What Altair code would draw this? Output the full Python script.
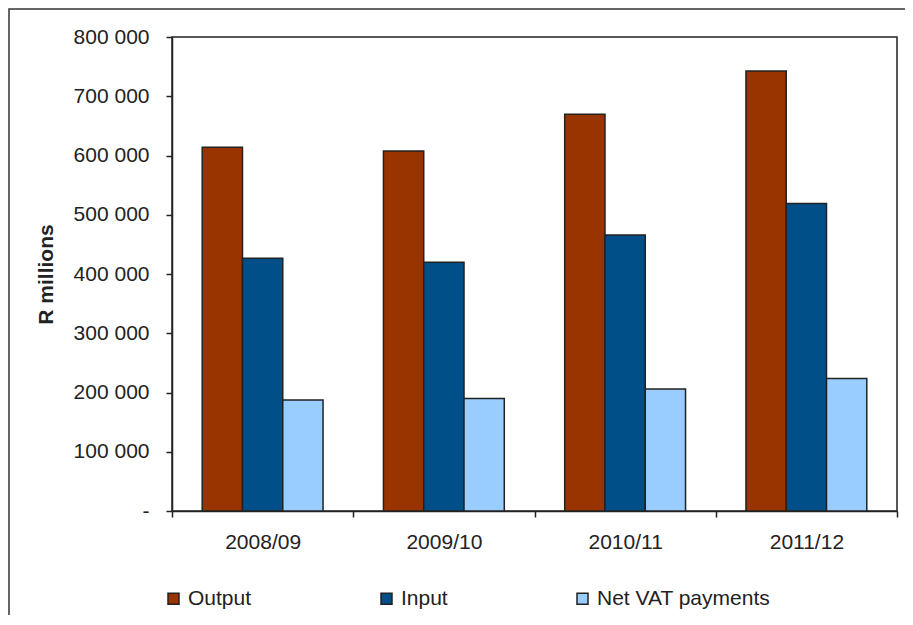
import altair as alt
import pandas as pd

years = ["2008/09", "2009/10", "2010/11", "2011/12"]
series = ["Output", "Input", "Net VAT payments"]
output_vals = [614000, 607500, 669500, 742500]
input_vals = [426500, 420000, 466000, 519000]
net_vals = [187500, 190000, 206000, 223500]
colors = ["#993300", "#014F88", "#99CCFF"]
y_ticks = [0, 100000, 200000, 300000, 400000, 500000, 600000, 700000, 800000]

rows = []
for s, vals in zip(series, [output_vals, input_vals, net_vals]):
    for yr, v in zip(years, vals):
        rows.append({"year": yr, "series": s, "value": v})
df = pd.DataFrame(rows)

FONT = "Liberation Sans"
FS = 21
INK = "#222222"
W, H = 725, 474

bars = alt.Chart(df).mark_bar(stroke=INK, strokeWidth=1.5).encode(
    x=alt.X(
        "year:N",
        sort=years,
        scale=alt.Scale(paddingInner=0, paddingOuter=0),
        axis=alt.Axis(
            title=None, labelAngle=0, tickBand="extent", tickSize=6,
            labelPadding=14, grid=False, domainColor=INK, domainWidth=1.5,
            tickColor=INK, tickWidth=1.5,
        ),
    ),
    xOffset=alt.XOffset(
        "series:N", sort=series,
        scale=alt.Scale(paddingOuter=0.75, paddingInner=0),
    ),
    y=alt.Y(
        "value:Q",
        scale=alt.Scale(domain=[0, 800000], nice=False),
        axis=alt.Axis(
            values=y_ticks,
            labelExpr="datum.value == 0 ? '-' : format(datum.value / 1000, 'd') + ' 000'",
            title="R millions", titleFontWeight="bold", titleAngle=-90,
            titleX=-120, titleY=H / 2, titleAlign="center", titleBaseline="alphabetic",
            tickSize=6, labelPadding=17, grid=False, domainColor=INK,
            domainWidth=1.5, tickColor=INK, tickWidth=1.5,
        ),
    ),
    color=alt.Color(
        "series:N",
        sort=series,
        scale=alt.Scale(domain=series, range=colors),
        legend=alt.Legend(
            title=None, orient="none", direction="horizontal",
            legendX=-9, legendY=551, columnPadding=124, padding=0,
            symbolType="square", symbolSize=121, symbolStrokeColor=INK,
            symbolStrokeWidth=1.5, labelOffset=4, labelLimit=0,
        ),
    ),
)

frame = alt.Chart(alt.Data(values=[{}])).mark_rect(
    fill="white", fillOpacity=0, stroke="#333333", strokeWidth=1.5
).encode(
    x=alt.value(-163), x2=alt.value(W + 60),
    y=alt.value(-28), y2=alt.value(H + 200),
)

chart = alt.layer(frame, bars).properties(
    width=W, height=H,
    autosize=alt.AutoSizeParams(type="none"),
    padding={"left": 164, "top": 29, "right": 8, "bottom": 104},
).configure(
    font=FONT,
).configure_view(
    stroke=INK, strokeWidth=1.5,
).configure_axis(
    labelFont=FONT, labelFontSize=FS, labelColor=INK,
    titleFont=FONT, titleFontSize=FS, titleColor=INK,
).configure_legend(
    labelFont=FONT, labelFontSize=FS, labelColor=INK,
)

chart.save("out.html", embed_options={"renderer": "svg", "actions": False})
